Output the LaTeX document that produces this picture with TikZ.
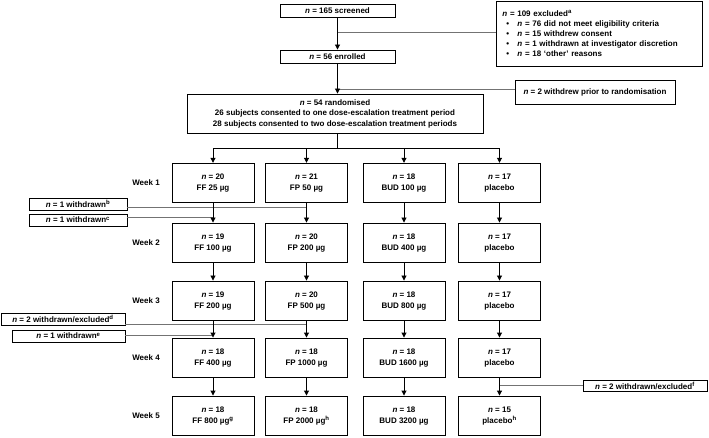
\documentclass[tikz,border=0pt]{standalone}
\usepackage{fontspec}
\setmainfont{Liberation Sans}
\usetikzlibrary{arrows.meta,calc}
\begin{document}
\begin{tikzpicture}[x=1pt,y=-1pt,
  txt/.style={font=\bfseries\fontsize{8}{10.5}\selectfont},
  box/.style={txt,draw,line width=0.9pt,inner sep=0pt,align=center},
  wk/.style={box,minimum width=82pt,minimum height=39.5pt,font=\bfseries\fontsize{8}{11}\selectfont},
  sbox/.style={box,minimum height=12pt},
  lbl/.style={txt},
  mainline/.style={line width=0.9pt,black},
  arr/.style={mainline,-{Triangle[length=5pt,width=5pt]}},
  side/.style={line width=0.9pt,black!55}
]
\useasboundingbox (0,0) rectangle (709,438);

% top flow
\node[box,minimum width=115pt,minimum height=13pt] (scr) at (337.5,10.5) {\textit{n} = 165 screened};
\node[box,minimum width=115pt,minimum height=13pt] (enr) at (337.5,56.5) {\textit{n} = 56 enrolled};
\node[box,minimum width=296pt,minimum height=39pt] (rand) at (335,113.5)
  {\textit{n} = 54 randomised\\26 subjects consented to one dose-escalation treatment period\\28 subjects consented to two dose-escalation treatment periods};
\node[box,anchor=west,text width=194pt,inner xsep=6pt,minimum height=65pt,align=left,font=\bfseries\fontsize{8}{10}\selectfont] (excl) at (496,33.5)
  {\textit{n} = 109 excluded\textsuperscript{a}\\
   \makebox[15pt][l]{\hspace*{4pt}•}\textit{n} = 76 did not meet eligibility criteria\\
   \makebox[15pt][l]{\hspace*{4pt}•}\textit{n} = 15 withdrew consent\\
   \makebox[15pt][l]{\hspace*{4pt}•}\textit{n} = 1 withdrawn at investigator discretion\\
   \makebox[15pt][l]{\hspace*{4pt}•}\textit{n} = 18 `other' reasons};
\node[box,minimum width=160pt,minimum height=24pt] (prior) at (595,92) {\textit{n} = 2 withdrew prior to randomisation};

% week labels
\node[lbl] (w1) at (146,183) {Week 1};
\node[lbl] (w2) at (146,242.75) {Week 2};
\node[lbl] (w3) at (146,300.75) {Week 3};
\node[lbl] (w4) at (146,357.75) {Week 4};
\node[lbl] (w5) at (146,415.75) {Week 5};

% week boxes
\node[wk] (ff1) at (213,183) {\textit{n} = 20\\FF 25 µg};
\node[wk] (fp1) at (306.5,183) {\textit{n} = 21\\FP 50 µg};
\node[wk] (bd1) at (404,183) {\textit{n} = 18\\BUD 100 µg};
\node[wk] (pl1) at (499.5,183) {\textit{n} = 17\\placebo};

\node[wk] (ff2) at (213,242.75) {\textit{n} = 19\\FF 100 µg};
\node[wk] (fp2) at (306.5,242.75) {\textit{n} = 20\\FP 200 µg};
\node[wk] (bd2) at (404,242.75) {\textit{n} = 18\\BUD 400 µg};
\node[wk] (pl2) at (499.5,242.75) {\textit{n} = 17\\placebo};

\node[wk] (ff3) at (213,300.75) {\textit{n} = 19\\FF 200 µg};
\node[wk] (fp3) at (306.5,300.75) {\textit{n} = 20\\FP 500 µg};
\node[wk] (bd3) at (404,300.75) {\textit{n} = 18\\BUD 800 µg};
\node[wk] (pl3) at (499.5,300.75) {\textit{n} = 17\\placebo};

\node[wk] (ff4) at (213,357.75) {\textit{n} = 18\\FF 400 µg};
\node[wk] (fp4) at (306.5,357.75) {\textit{n} = 18\\FP 1000 µg};
\node[wk] (bd4) at (404,357.75) {\textit{n} = 18\\BUD 1600 µg};
\node[wk] (pl4) at (499.5,357.75) {\textit{n} = 17\\placebo};

\node[wk] (ff5) at (213,415.75) {\textit{n} = 18\\FF 800 µg\textsuperscript{g}};
\node[wk] (fp5) at (306.5,415.75) {\textit{n} = 18\\FP 2000 µg\textsuperscript{h}};
\node[wk] (bd5) at (404,415.75) {\textit{n} = 18\\BUD 3200 µg};
\node[wk] (pl5) at (499.5,415.75) {\textit{n} = 15\\placebo\textsuperscript{h}};

% side boxes
\node[sbox,minimum width=98pt] (wb) at (78,204) {\textit{n} = 1 withdrawn\textsuperscript{b}};
\node[sbox,minimum width=98pt] (wc) at (78,220) {\textit{n} = 1 withdrawn\textsuperscript{c}};
\node[sbox,minimum width=124pt] (wd) at (63,319) {\textit{n} = 2 withdrawn/excluded\textsuperscript{d}};
\node[sbox,minimum width=113pt] (we) at (68.5,336) {\textit{n} = 1 withdrawn\textsuperscript{e}};
\node[sbox,minimum width=124pt,minimum height=11pt] (wf) at (645,385.5) {\textit{n} = 2 withdrawn/excluded\textsuperscript{f}};

% side connectors
\draw[side] ([yshift=1.5pt]excl.west) -- ([yshift=1.5pt]excl.west -| scr.south);
\draw[side] ([yshift=3pt]prior.west) -- ([yshift=3pt]prior.west -| scr.south);
\draw[side] ([yshift=-3pt]wb.east) -- ([yshift=-3pt]wb.east -| fp1.south);
\draw[side] ([yshift=3pt]wc.east) -- ([yshift=3pt]wc.east -| ff1.south);
\draw[side] ([yshift=-5pt]wd.east) -- ([yshift=-5pt]wd.east -| fp3.south);
\draw[side] ([yshift=1pt]we.east) -- ([yshift=1pt]we.east -| ff3.south);
\draw[side] (wf.west) -- (wf.west -| pl4.south);

% main flow
\draw[arr] (scr.south) -- (enr.north);
\draw[arr] (enr.south) -- (enr.south |- rand.north);
\coordinate (bar) at ($(enr.south |- rand.south)+(0,15)$);
\draw[mainline] (enr.south |- rand.south) -- (bar);
\draw[mainline] (ff1.north |- bar) -- (pl1.north |- bar);
\foreach \c in {ff,fp,bd,pl}{
  \draw[arr] (\c1.north |- bar) -- (\c1.north);
  \draw[arr] (\c1) -- (\c2);
  \draw[arr] (\c2) -- (\c3);
  \draw[arr] (\c3) -- (\c4);
  \draw[arr] (\c4) -- (\c5);
}
\end{tikzpicture}
\end{document}
